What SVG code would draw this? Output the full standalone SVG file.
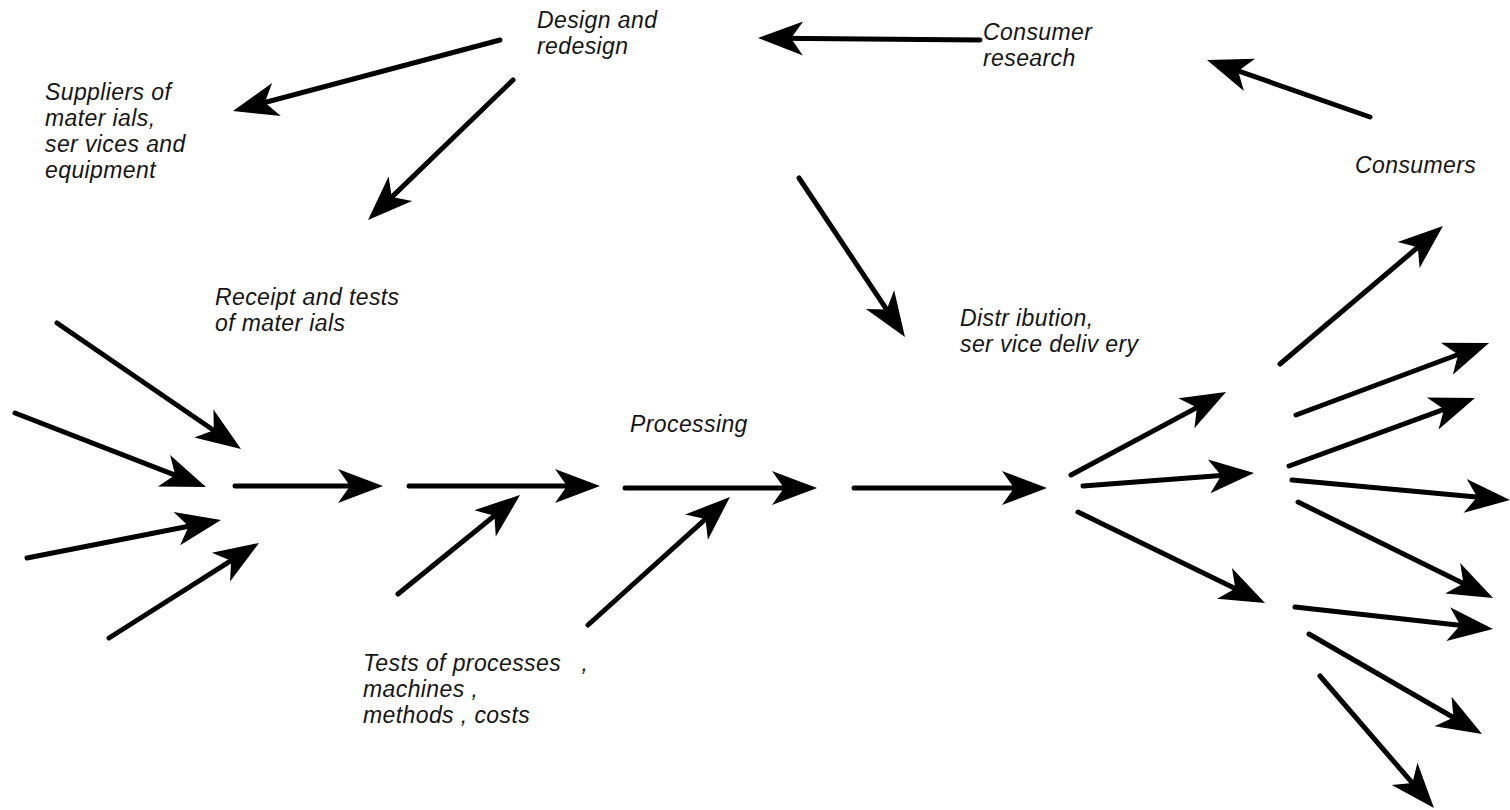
<svg xmlns="http://www.w3.org/2000/svg" width="1510" height="810" viewBox="0 0 1510 810">
<style>
.lbl{font-family:"Liberation Sans",Arial,sans-serif;font-style:italic;font-size:23px;letter-spacing:0.4px;fill:#151515;white-space:pre}
.arr{stroke:#000;stroke-width:5;stroke-linecap:round;fill:none;marker-end:url(#head)}
</style>
<defs>
<marker id="head" markerUnits="userSpaceOnUse" viewBox="-30 -20 55 40" markerWidth="55" markerHeight="40" refX="0" refY="0" orient="auto" overflow="visible">
<path d="M20,0 L-25,-17 L-13,0 L-25,17 Z" fill="#000"/>
</marker>
</defs>
<rect width="1510" height="810" fill="#fff"/>
<g id="design"><text class="lbl" x="537" y="28">Design and</text><text class="lbl" x="537" y="54">redesign</text></g>
<g id="consumer-research"><text class="lbl" x="983" y="40">Consumer</text><text class="lbl" x="983" y="66">research</text></g>
<g id="suppliers"><text class="lbl" x="45" y="100">Suppliers of</text><text class="lbl" x="45" y="126">mater ials,</text><text class="lbl" x="45" y="152">ser vices and</text><text class="lbl" x="45" y="178">equipment</text></g>
<g id="consumers"><text class="lbl" x="1355" y="173">Consumers</text></g>
<g id="receipt"><text class="lbl" x="215" y="305">Receipt and tests</text><text class="lbl" x="215" y="331">of mater ials</text></g>
<g id="distribution"><text class="lbl" x="960" y="326">Distr ibution,</text><text class="lbl" x="960" y="352">ser vice deliv ery</text></g>
<g id="processing"><text class="lbl" x="630" y="432">Processing</text></g>
<g id="tests"><text class="lbl" x="363" y="671">Tests of processes   ,</text><text class="lbl" x="363" y="697">machines ,</text><text class="lbl" x="363" y="723">methods , costs</text></g>
<g id="connectors">
<path class="arr" d="M500,40 L252.3,105.9"/>
<path class="arr" d="M513,80 L382.4,206.1"/>
<path class="arr" d="M980,40 L778,38.2"/>
<path class="arr" d="M1370,117 L1225.9,66.6"/>
<path class="arr" d="M799,178 L893.9,320.4"/>
<path class="arr" d="M57,323 L224.5,437.7"/>
<path class="arr" d="M15,413 L187.3,479.8"/>
<path class="arr" d="M27,558 L201.4,523.8"/>
<path class="arr" d="M109,638 L242.1,553.7"/>
<path class="arr" d="M235,486 L363,486"/>
<path class="arr" d="M409,486 L580,486"/>
<path class="arr" d="M625,488 L797,488"/>
<path class="arr" d="M854,488 L1027,488"/>
<path class="arr" d="M398,594 L504.5,507.6"/>
<path class="arr" d="M588,625 L715.1,510.4"/>
<path class="arr" d="M1071,475 L1208.4,401.4"/>
<path class="arr" d="M1083,486 L1234.1,474.5"/>
<path class="arr" d="M1078,512 L1247,594.3"/>
<path class="arr" d="M1280,364 L1427.7,238.9"/>
<path class="arr" d="M1296,415 L1470.3,350"/>
<path class="arr" d="M1289,466 L1456.2,404.9"/>
<path class="arr" d="M1292,480 L1490.1,498.2"/>
<path class="arr" d="M1298,502 L1475.1,589.2"/>
<path class="arr" d="M1295,607 L1473.1,626.8"/>
<path class="arr" d="M1309,634 L1464.7,724"/>
<path class="arr" d="M1320,676 L1420.9,792.9"/>
</g>
</svg>
